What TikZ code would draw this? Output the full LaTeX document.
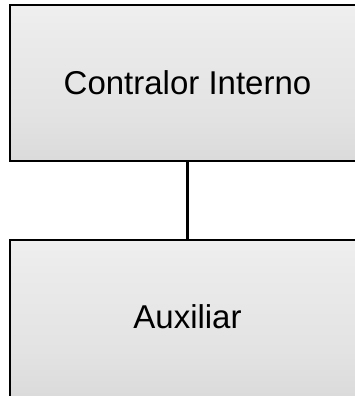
\documentclass[tikz,border=0pt]{standalone}
\usepackage{fontspec}
\setmainfont{Liberation Sans}
\pgfdeclareverticalshading{boxshade}{100bp}{%
  color(0bp)=(black!34);
  color(8bp)=(black!27);
  color(22bp)=(black!15);
  color(40bp)=(black!11);
  color(65bp)=(black!8);
  color(100bp)=(black!2)}
\tikzset{
  orgbox/.style={draw=black, line width=2pt, shading=boxshade, rectangle,
    minimum width=420pt, inner sep=0pt,
    font=\fontsize{33}{40}\selectfont},
  link/.style={draw=black, line width=3pt}
}
\begin{document}
\begin{tikzpicture}[x=1pt,y=-1pt]
\useasboundingbox (0,0) rectangle (355,396);
\node[orgbox, minimum height=156pt] (top) at (220,83) {\hspace*{-65pt}Contralor Interno};
\node[orgbox, minimum height=158pt, text height=24pt, text depth=6pt] (bot) at (220,319) {\hspace*{-65pt}Auxiliar};
\draw[link] ([xshift=-32.5pt]top.south) -- ([xshift=-32.5pt]bot.north);
\end{tikzpicture}
\end{document}
